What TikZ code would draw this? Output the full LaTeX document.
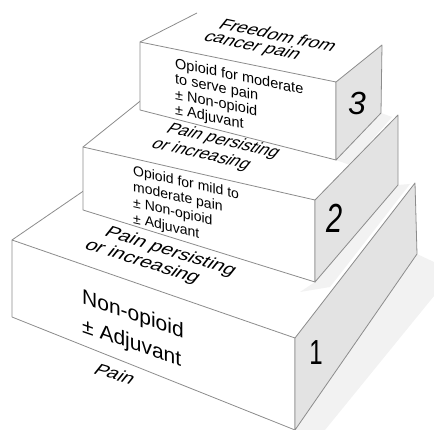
\documentclass[tikz,border=0pt]{standalone}
\usepackage{fontspec}
\setmainfont{Liberation Sans}
\begin{document}
\begin{tikzpicture}[x=1pt,y=-1pt,
  edge/.style={draw=black!45, line width=0.8pt, line join=round},
  face/.style={edge, fill=white},
  sideface/.style={edge, fill=black!11},
  shadowarea/.style={fill=black!5, draw=none},
  fronttxt/.style={anchor=base west, inner sep=0pt, align=left},
  toptxt/.style={anchor=base west, inner sep=0pt, align=left},
  digit/.style={inner sep=0pt}
]
\useasboundingbox (0,0) rectangle (434,430);
% coordinates
\coordinate (b1ftl) at (12,240);  \coordinate (b1fbl) at (12,317);
\coordinate (b1ftr) at (295,338); \coordinate (b1fbr) at (295,430);
\coordinate (b1str) at (415,183); \coordinate (b1sbr) at (417,254);
\coordinate (b1btl) at (152,144);
\coordinate (b2ftl) at (83,147);  \coordinate (b2fbl) at (83,210);
\coordinate (b2ftr) at (315,200); \coordinate (b2fbr) at (315,282);
\coordinate (b2str) at (398,115); \coordinate (b2sbr) at (398,185);
\coordinate (b2btl) at (159,86);
\coordinate (b3ftl) at (140,42);  \coordinate (b3fbl) at (140,110);
\coordinate (b3ftr) at (336,82);  \coordinate (b3fbr) at (336,160);
\coordinate (b3str) at (382,45);  \coordinate (b3sbr) at (381,113);
\coordinate (b3btl) at (197,13);
% shadows
\fill[shadowarea] (b1sbr) -- (434,262) -- (434,296) -- (325,430) -- (b1fbr) -- cycle;
% box 1
\fill[white] (b1ftl) -- (b1btl) -- (b1str) -- (b1ftr) -- cycle;
\fill[shadowarea] (b2fbr) -- (b2sbr) -- (410,184) -- (330,287) -- (300,292) -- cycle;
\draw[edge] (b1ftl) -- (b1btl);
\draw[face] (b1ftl) -- (b1ftr) -- (b1fbr) -- (b1fbl) -- cycle;
\draw[sideface] (b1ftr) -- (b1str) -- (b1sbr) -- (b1fbr) -- cycle;
% box 2
\fill[white] (b2ftl) -- (b2btl) -- (b2str) -- (b2ftr) -- cycle;
\fill[shadowarea] (b3fbr) -- (b3sbr) -- (392,117) -- (350,165) -- cycle;
\draw[edge] (b2ftl) -- (b2btl);
\draw[face] (b2ftl) -- (b2ftr) -- (b2fbr) -- (b2fbl) -- cycle;
\draw[sideface] (b2ftr) -- (b2str) -- (b2sbr) -- (b2fbr) -- cycle;
% box 3
\fill[white] (b3ftl) -- (b3btl) -- (b3str) -- (b3ftr) -- cycle;
\draw[edge] (b3ftl) -- (b3btl);
\draw[face] (b3ftl) -- (b3ftr) -- (b3fbr) -- (b3fbl) -- cycle;
\draw[sideface] (b3ftr) -- (b3str) -- (b3sbr) -- (b3fbr) -- cycle;
% top-face texts (base anchor = baseline of the last line)
\node[toptxt, font=\fontsize{14}{12.97}\selectfont, cm={1.3,-0.273,0.8,1,(0,0)}] (a)
  at (202,40) {\hspace*{3.56pt}Freedom from\\cancer pain};
\node[toptxt, font=\fontsize{14}{15.58}\selectfont, cm={1.2,-0.276,0.8,1,(0,0)}] (bb)
  at (150,147) {\hspace*{2.11pt}Pain persisting\\or increasing};
\node[toptxt, font=\fontsize{14}{15.42}\selectfont, cm={1.4,-0.441,0.8,1,(0,0)}] (c)
  at (83,248) {\hspace*{5.48pt}Pain persisting\\or increasing};
\node[toptxt, font=\fontsize{14}{14}\selectfont, cm={1.35,-0.405,0.8,1,(0,0)}] (d)
  at (92,373) {Pain};
% front-face texts (base anchor = baseline of the last line)
\node[fronttxt, yslant=-0.204, font=\fontsize{14.5}{15.5}\selectfont] (f3)
  at (175,114.5) {Opioid for moderate\\to serve pain\\± Non-opioid\\± Adjuvant};
\node[fronttxt, yslant=-0.228, font=\fontsize{14}{16}\selectfont] (f2)
  at (133,223) {Opioid for mild to\\moderate pain\\± Non-opioid\\± Adjuvant};
\node[fronttxt, yslant=-0.346, font=\fontsize{21}{29}\selectfont] (f1)
  at (82,332) {Non-opioid\\± Adjuvant};
% step numbers
\node[digit, font=\fontsize{32}{32}\selectfont\itshape] (n3) at (357,103) {3};
\node[digit, font=\fontsize{29}{29}\selectfont\itshape, yscale=1.4] (n2) at (335,218) {2};
\node[digit, font=\fontsize{24}{24}\selectfont, yscale=1.45] (n1) at (316,353) {1};
\end{tikzpicture}
\end{document}
